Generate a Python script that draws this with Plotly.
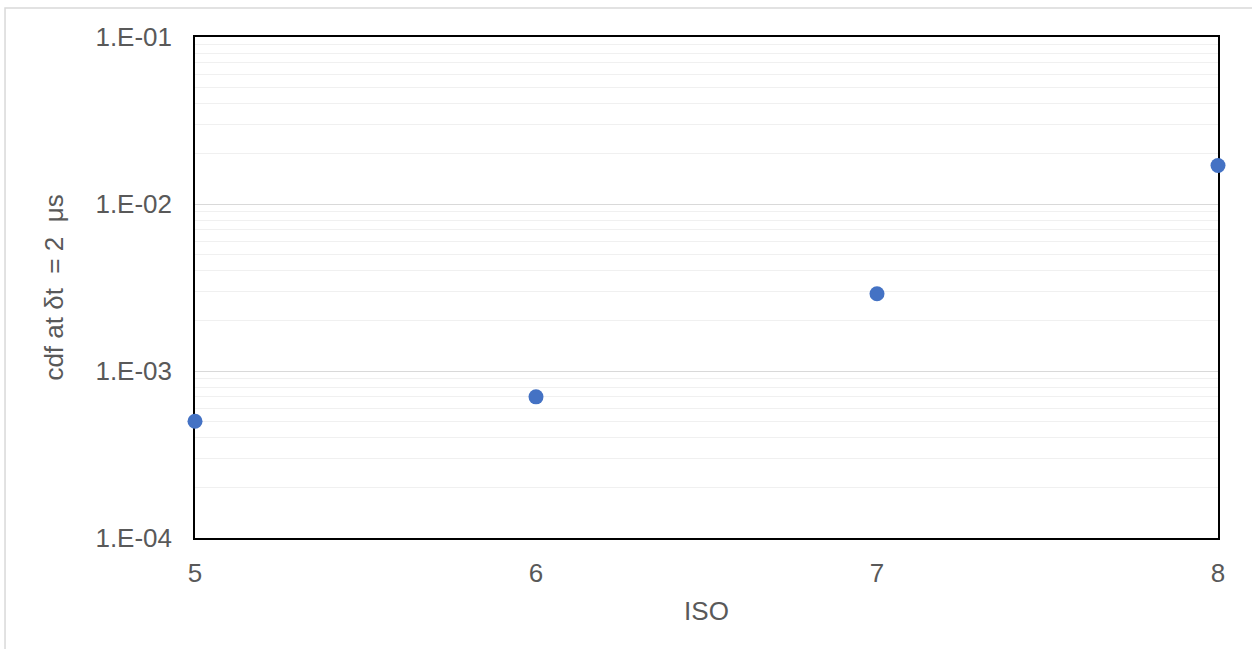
import plotly.graph_objects as go

# ISO setting vs. cumulative distribution value at δt = 2 μs
iso = [5, 6, 7, 8]
cdf_values = [5.0e-4, 7.0e-4, 2.9e-3, 1.7e-2]

y_tick_vals = [1e-4, 1e-3, 1e-2, 1e-1]
y_tick_text = ["1.E-04", "1.E-03", "1.E-02", "1.E-01"]
x_tick_vals = [5, 6, 7, 8]
x_tick_text = ["5", "6", "7", "8"]

FONT = "Liberation Sans, Arial, sans-serif"
TEXT_COLOR = "#595959"
FONT_SIZE = 26

fig = go.Figure()
fig.add_trace(go.Scatter(
    x=iso,
    y=cdf_values,
    mode="markers",
    marker=dict(color="#4472C4", size=15),
    cliponaxis=False,
    showlegend=False,
))

fig.update_layout(
    width=1252,
    height=649,
    margin=dict(l=195, r=34, t=37, b=111),
    paper_bgcolor="white",
    plot_bgcolor="white",
    font=dict(family=FONT, size=FONT_SIZE, color=TEXT_COLOR),
    xaxis=dict(
        range=[5, 8],
        tickvals=x_tick_vals,
        ticktext=x_tick_text,
        showgrid=False,
        zeroline=False,
        showline=True,
        mirror=True,
        linecolor="black",
        linewidth=1.5,
        ticks="",
        ticklabelstandoff=11,
        layer="below traces",
        title=dict(text="ISO", font=dict(size=FONT_SIZE, color=TEXT_COLOR), standoff=15),
        tickfont=dict(size=FONT_SIZE, color=TEXT_COLOR),
    ),
    yaxis=dict(
        type="log",
        range=[-4, -1],
        tickvals=y_tick_vals,
        ticktext=y_tick_text,
        showgrid=True,
        gridcolor="#d9d9d9",
        gridwidth=1,
        minor=dict(dtick="D1", showgrid=True, gridcolor="#f0f0f0", gridwidth=1, ticks=""),
        zeroline=False,
        showline=True,
        mirror=True,
        linecolor="black",
        linewidth=1.5,
        ticks="",
        ticklabelstandoff=16,
        layer="below traces",
        title=dict(text="cdf at δt  = 2  μs", font=dict(size=FONT_SIZE, color=TEXT_COLOR), standoff=24),
        tickfont=dict(size=FONT_SIZE, color=TEXT_COLOR),
    ),
    shapes=[
        dict(
            type="rect",
            xref="paper", yref="paper",
            x0=-0.1857, x1=1.2, y0=-0.4, y1=1.058,
            line=dict(color="#d9d9d9", width=1.5),
            fillcolor="rgba(0,0,0,0)",
            layer="below",
        )
    ],
)

fig.write_html("out.html")
